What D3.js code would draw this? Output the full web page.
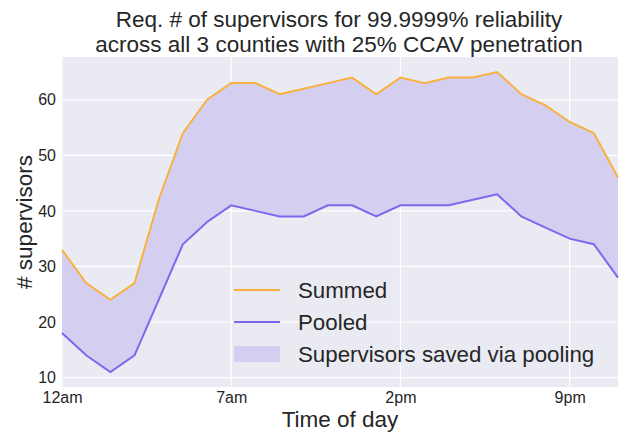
<!DOCTYPE html>
<html>
<head>
<meta charset="utf-8">
<script src="https://cdn.jsdelivr.net/npm/d3@7"></script>
<style>
  body { margin: 0; background: #fff; }
  text { font-family: "Liberation Sans", Arial, sans-serif; fill: #262626; }
</style>
</head>
<body>
<svg class="chart"></svg>
<script>
// hourly values, 12am .. 11pm
var hours = d3.range(0, 24);
var summed = [33, 27, 24, 27, 42, 54, 60, 63, 63, 61, 62, 63, 64, 61, 64, 63, 64, 64, 65, 61, 59, 56, 54, 46];
var pooled = [18, 14, 11, 14, 24, 34, 38, 41, 40, 39, 39, 41, 41, 39, 41, 41, 41, 42, 43, 39, 37, 35, 34, 28];
var xTickVals = [0, 7, 14, 21];
var xTickLabels = ["12am", "7am", "2pm", "9pm"];
var yTickVals = [10, 20, 30, 40, 50, 60];
var titleLines = ["Req. # of supervisors for 99.9999% reliability", "across all 3 counties with 25% CCAV penetration"];
var legendLabels = ["Summed", "Pooled", "Supervisors saved via pooling"];

var width = 620;
var height = 433;
var margin = {left: 62, right: 2, top: 57, bottom: 46};

var colSummed = "#f8b13f";
var colPooled = "#7b68ee";
var colFill = "#d4cff0";

var chart = d3.select(".chart")
    .attr("width", width)
    .attr("height", height);

var x = d3.scaleLinear()
    .domain([0, 23])
    .range([margin.left, width - margin.right]);

var y = d3.scaleLinear()
    .domain([8.3, 67.7])
    .range([height - margin.bottom, margin.top]);

// plot background
chart.append("rect")
    .attr("x", margin.left)
    .attr("y", margin.top)
    .attr("width", width - margin.left - margin.right)
    .attr("height", height - margin.top - margin.bottom)
    .attr("fill", "#eaeaf2");

// grid
chart.append("g").selectAll("line.hgrid")
    .data(yTickVals)
    .enter().append("line")
    .attr("x1", margin.left).attr("x2", width - margin.right)
    .attr("y1", d => y(d)).attr("y2", d => y(d))
    .attr("stroke", "#fff").attr("stroke-width", 1.2);

chart.append("g").selectAll("line.vgrid")
    .data(xTickVals)
    .enter().append("line")
    .attr("x1", d => x(d)).attr("x2", d => x(d))
    .attr("y1", margin.top).attr("y2", height - margin.bottom)
    .attr("stroke", "#fff").attr("stroke-width", 1.2);

// saved area between the two lines
var area = d3.area()
    .x((d, i) => x(hours[i]))
    .y0((d, i) => y(pooled[i]))
    .y1(d => y(d));

chart.append("path")
    .datum(summed)
    .attr("d", area)
    .attr("fill", colFill);

var line = d3.line()
    .x((d, i) => x(hours[i]))
    .y(d => y(d));

chart.append("path")
    .datum(summed)
    .attr("d", line)
    .attr("fill", "none")
    .attr("stroke", colSummed)
    .attr("stroke-width", 2);

chart.append("path")
    .datum(pooled)
    .attr("d", line)
    .attr("fill", "none")
    .attr("stroke", colPooled)
    .attr("stroke-width", 2);

// axes
var xAxis = d3.axisBottom(x)
    .tickValues(xTickVals)
    .tickFormat((d, i) => xTickLabels[i])
    .tickSize(0)
    .tickPadding(5);

var gx = chart.append("g")
    .attr("transform", "translate(0," + (height - margin.bottom) + ")")
    .call(xAxis);
gx.select(".domain").remove();
gx.selectAll("text").style("font-size", "16px").attr("fill", "#262626");

var yAxis = d3.axisLeft(y)
    .tickValues(yTickVals)
    .tickSize(0)
    .tickPadding(6);

var gy = chart.append("g")
    .attr("transform", "translate(" + margin.left + ",0)")
    .call(yAxis);
gy.select(".domain").remove();
gy.selectAll("text").style("font-size", "16px").attr("fill", "#262626");

// labels
chart.append("text")
    .attr("x", (margin.left + width - margin.right) / 2)
    .attr("y", 427)
    .attr("text-anchor", "middle")
    .style("font-size", "22.5px")
    .text("Time of day");

chart.append("text")
    .attr("transform", "translate(32," + ((margin.top + height - margin.bottom) / 2) + ") rotate(-90)")
    .attr("text-anchor", "middle")
    .style("font-size", "22.5px")
    .text("# supervisors");

chart.append("g").selectAll("text.title")
    .data(titleLines)
    .enter().append("text")
    .attr("x", 339)
    .attr("y", (d, i) => 27 + i * 25)
    .attr("text-anchor", "middle")
    .style("font-size", "22.5px")
    .text(d => d);

// legend
var leg = chart.append("g").attr("transform", "translate(234,290)");
leg.append("line")
    .attr("x1", 0).attr("x2", 46).attr("y1", 0).attr("y2", 0)
    .attr("stroke", colSummed).attr("stroke-width", 2);
leg.append("line")
    .attr("x1", 0).attr("x2", 46).attr("y1", 32).attr("y2", 32)
    .attr("stroke", colPooled).attr("stroke-width", 2);
leg.append("rect")
    .attr("x", 0).attr("y", 56).attr("width", 46).attr("height", 16)
    .attr("fill", colFill);
leg.selectAll("text")
    .data(legendLabels)
    .enter().append("text")
    .attr("x", 64)
    .attr("y", (d, i) => i * 32 + 8)
    .style("font-size", "22.3px")
    .text(d => d);
</script>
</body>
</html>
